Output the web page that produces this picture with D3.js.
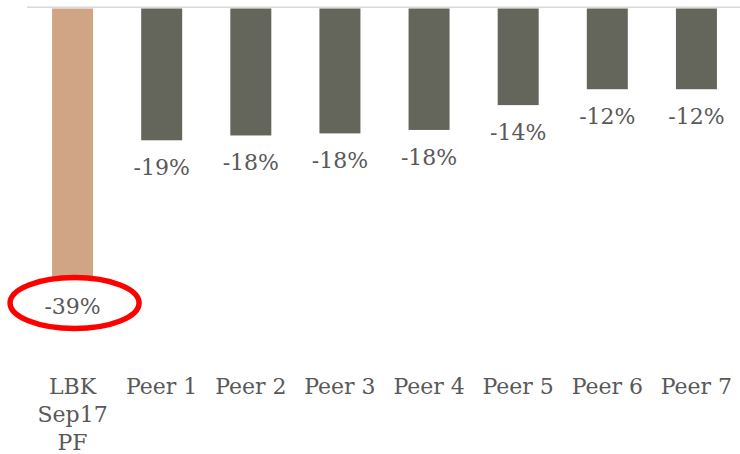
<!DOCTYPE html>
<html>
<head>
<meta charset="utf-8">
<script src="https://cdn.jsdelivr.net/npm/d3@7"></script>
<style>
  html, body { margin: 0; padding: 0; background: #ffffff; }
  svg { display: block; }
</style>
</head>
<body>
<svg id="chart" width="740" height="454"></svg>
<script>
const categories = ["LBK\nSep17\nPF", "Peer 1", "Peer 2", "Peer 3", "Peer 4", "Peer 5", "Peer 6", "Peer 7"];
const values = [-39.2, -19.1, -18.4, -18.1, -17.6, -14.0, -11.7, -11.7];
const valueLabels = ["-39%", "-19%", "-18%", "-18%", "-18%", "-14%", "-12%", "-12%"];
const highlightIndex = 0;

const svg = d3.select("#chart");
const W = 740, H = 454;
const fontFamily = "'DejaVu Serif', serif";
const textColor = "#595959";

const x = d3.scaleBand().domain(categories).range([28, 741]).paddingInner(0.54).paddingOuter(0.27);
const y = d3.scaleLinear().domain([-50, 0]).range([8.5 + 50 * 6.9, 8.5]);

// bars
svg.append("g").selectAll("rect").data(values).join("rect")
  .attr("x", (d, i) => x(categories[i]))
  .attr("y", y(0))
  .attr("width", x.bandwidth())
  .attr("height", d => y(d) - y(0))
  .attr("fill", (d, i) => i === highlightIndex ? "#cfa586" : "#65665b");

// zero axis line
svg.append("line")
  .attr("x1", 27).attr("x2", W)
  .attr("y1", y(0) - 1.2).attr("y2", y(0) - 1.2)
  .attr("stroke", "#d9d9d9").attr("stroke-width", 1.5);

// value labels
svg.append("g").selectAll("text").data(values).join("text")
  .attr("x", (d, i) => x(categories[i]) + x.bandwidth() / 2)
  .attr("y", d => y(d) + 35)
  .attr("text-anchor", "middle")
  .attr("font-family", fontFamily)
  .attr("font-size", 22)
  .attr("fill", textColor)
  .text((d, i) => valueLabels[i]);

// highlight ellipse
const hv = values[highlightIndex];
svg.append("ellipse")
  .attr("cx", x(categories[highlightIndex]) + x.bandwidth() / 2 + 2)
  .attr("cy", y(hv) + 24)
  .attr("rx", 64.5)
  .attr("ry", 25.5)
  .attr("fill", "none")
  .attr("stroke", "#ff0000")
  .attr("stroke-width", 5.5);

// category labels
const cat = svg.append("g").selectAll("text").data(categories).join("text")
  .attr("x", d => x(d) + x.bandwidth() / 2)
  .attr("y", 394)
  .attr("text-anchor", "middle")
  .attr("font-family", fontFamily)
  .attr("font-size", 22)
  .attr("fill", textColor);
cat.each(function(d) {
  const lines = d.split("\n");
  const t = d3.select(this);
  lines.forEach((ln, j) => {
    t.append("tspan")
      .attr("x", x(d) + x.bandwidth() / 2)
      .attr("dy", j === 0 ? 0 : 28)
      .text(ln);
  });
});
</script>
</body>
</html>
